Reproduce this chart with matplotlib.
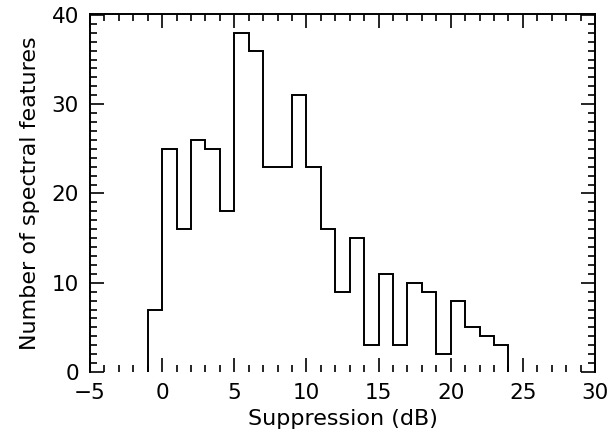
import matplotlib
matplotlib.use("Agg")
import matplotlib.pyplot as plt
from matplotlib.ticker import MultipleLocator

# histogram of suppression values, 1 dB bins
bin_edges = list(range(-1, 25))
counts = [7, 25, 16, 26, 25, 18, 38, 36, 23, 23, 31, 23, 16, 9, 15,
          3, 11, 3, 10, 9, 2, 8, 5, 4, 3]
xtick_vals = [-5, 0, 5, 10, 15, 20, 25, 30]
xtick_labels = ['\u22125', '0', '5', '10', '15', '20', '25', '30']

plt.rcParams['font.family'] = ['DejaVu Sans']

fig = plt.figure(figsize=(6.15, 4.37), dpi=100)
ax = fig.add_axes([0.1463, 0.1487, 0.8212, 0.8193])

ax.stairs(counts, bin_edges, baseline=0, color='black', linewidth=1.4)

ax.set_xlim(-5, 30)
ax.set_ylim(0, 40.1)
ax.xaxis.set_minor_locator(MultipleLocator(1))
ax.yaxis.set_major_locator(MultipleLocator(10))
ax.yaxis.set_minor_locator(MultipleLocator(1))
ax.set_xticks(xtick_vals)
ax.set_xticklabels(xtick_labels)

ax.tick_params(which='both', direction='in', top=True, right=True,
               labelsize=15.5, width=1.2, color='black', labelcolor='black')
ax.tick_params(which='major', length=10, pad=8)
ax.tick_params(which='minor', length=5)
ax.tick_params(axis='y', which='major', pad=8)

for side in ['left', 'right', 'top']:
    ax.spines[side].set_linewidth(1.4)
ax.spines['bottom'].set_visible(False)

ax.set_xlabel('Suppression (dB)', fontsize=16, labelpad=4)
ax.set_ylabel('Number of spectral features', fontsize=16, labelpad=8)

fig.savefig('out.png', dpi=100)
